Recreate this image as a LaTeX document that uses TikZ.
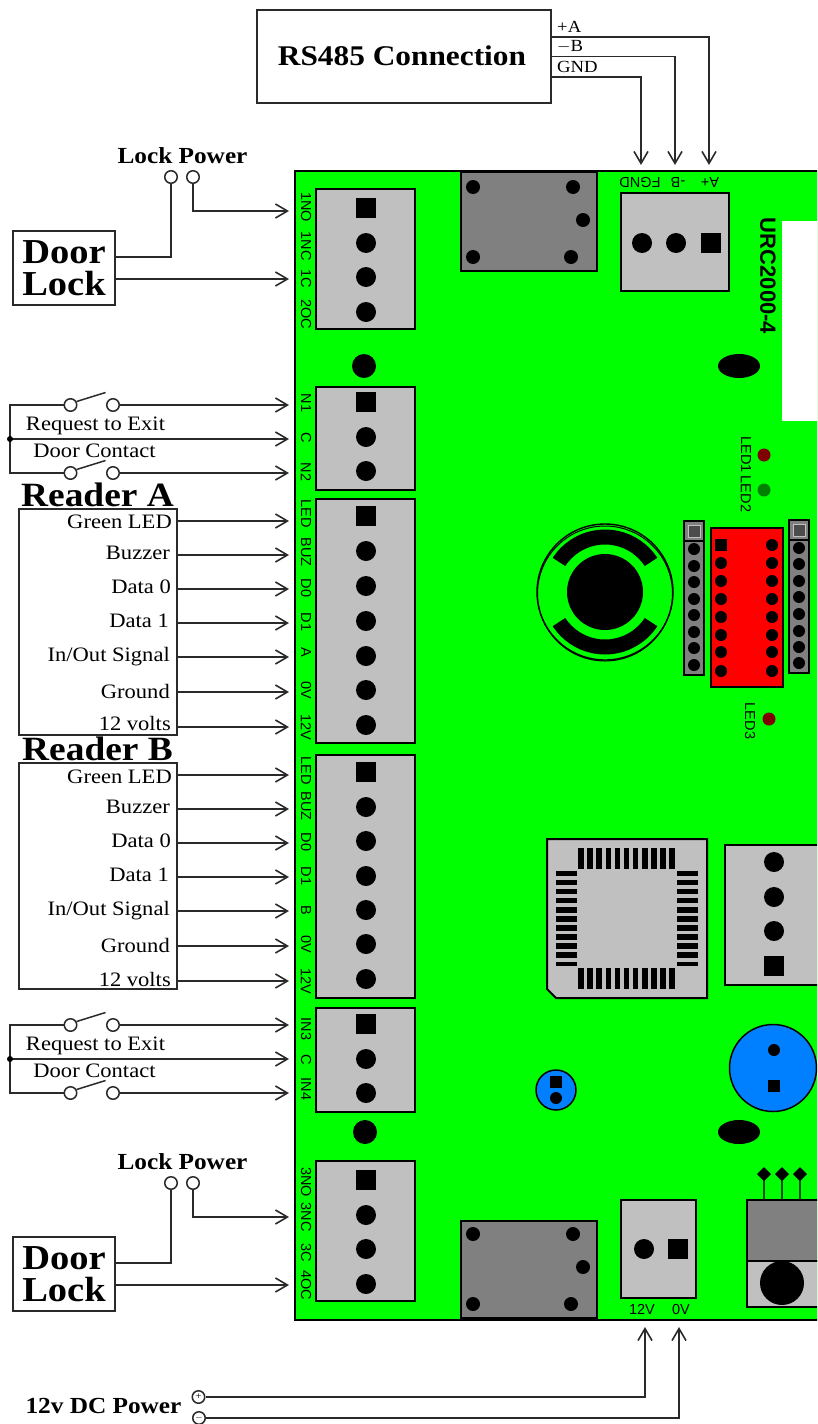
\documentclass[tikz,border=0pt]{standalone}
\usepackage{fontspec}
\setmainfont[FakeStretch=1.1]{Liberation Serif}
\setsansfont{Liberation Sans}
\usetikzlibrary{arrows.meta}
\definecolor{boardgreen}{HTML}{00FF00}
\definecolor{partgrey}{HTML}{C0C0C0}
\definecolor{relaygrey}{HTML}{808080}
\definecolor{capblue}{HTML}{0080FF}
\definecolor{ledred}{HTML}{800000}
\definecolor{ledgreen}{HTML}{008000}
\definecolor{wirecol}{HTML}{2A2A2A}
\tikzset{
  wire/.style={draw=wirecol, line width=1.5pt},
  feed/.style={wire, -{Straight Barb[length=12pt,width=14pt,line width=1.6pt]}},
  box/.style={draw=wirecol, line width=1.5pt, inner sep=0pt},
  term/.style={draw=wirecol, line width=1.5pt, fill=white, circle, minimum size=12.5pt, inner sep=0pt},
  block/.style={draw=black, line width=2pt, fill=partgrey},
  relay/.style={draw=black, line width=2pt, fill=relaygrey},
  bighead/.style={font=\bfseries\fontsize{35}{35}\selectfont, inner sep=0pt},
  readhead/.style={font=\bfseries\fontsize{34}{34}\selectfont, inner sep=0pt},
  head/.style={font=\bfseries\fontsize{23}{23}\selectfont, inner sep=0pt},
  sig/.style={font=\fontsize{20.5}{20.5}\selectfont, inner sep=0pt},
  small/.style={font=\fontsize{17}{17}\selectfont, inner sep=0pt},
  pinlabel/.style={font=\sffamily\fontsize{14.5}{14.5}\selectfont, inner sep=0pt},
  pindown/.style={pinlabel, rotate=-90},
  pinflip/.style={pinlabel, rotate=180}
}
\begin{document}
\begin{tikzpicture}[x=1pt, y=-1pt]
\useasboundingbox (0,0) rectangle (817,1424);
\clip (0,0) rectangle (817,1424);

\path [fill=boardgreen] (825,171) -- (295,171) -- (295,1320) -- (825,1320);
\draw [black, line width=2pt] (825,171) -- (295,171) -- (295,1320) -- (825,1320);
\path [fill=white] (782,221) rectangle (825,421);

\node [rotate=-90, font=\sffamily\bfseries\fontsize{22}{22}\selectfont, inner sep=0pt] (urc) at (768,276) {URC2000-4};

\draw [block] (316,189) rectangle (415,329);
\fill (356,198) rectangle (376,218);
\fill (366,243) circle (10);
\fill (366,277) circle (10);
\fill (366,312) circle (10);
\node [pindown] (l1no) at (306,207) {1NO};
\node [pindown] (l1nc) at (306,246) {1NC};
\node [pindown] (l1c) at (306,279) {1C};
\node [pindown] (l2oc) at (306,314) {2OC};

\fill (364,366) circle (12);

\draw [block] (316,387) rectangle (415,490);
\fill (356,392) rectangle (376,412);
\fill (366,437) circle (10);
\fill (366,471) circle (10);
\node [pindown] (ln1) at (306,403) {N1};
\node [pindown] (lca) at (306,438) {C};
\node [pindown] (ln2) at (306,472) {N2};

\draw [block] (316,499) rectangle (415,743);
\fill (356,506) rectangle (376,526);
\fill (366,551) circle (10);
\fill (366,586) circle (10);
\fill (366,621) circle (10);
\fill (366,656) circle (10);
\fill (366,690) circle (10);
\fill (366,725) circle (10);
\node [pindown] (lalib) at (306,514) {LED};
\node [pindown] (labuz) at (306,552) {BUZ};
\node [pindown] (lad0) at (306,588) {D0};
\node [pindown] (lad1) at (306,622) {D1};
\node [pindown] (laa) at (306,652) {A};
\node [pindown] (la0v) at (306,690) {0V};
\node [pindown] (la12) at (306,727) {12V};

\draw [block] (316,755) rectangle (415,998);
\fill (356,762) rectangle (376,782);
\fill (366,807) circle (10);
\fill (366,841) circle (10);
\fill (366,876) circle (10);
\fill (366,910) circle (10);
\fill (366,944) circle (10);
\fill (366,979) circle (10);
\node [pindown] (lblib) at (306,771) {LED};
\node [pindown] (lbbuz) at (306,806) {BUZ};
\node [pindown] (lbd0) at (306,842) {D0};
\node [pindown] (lbd1) at (306,876) {D1};
\node [pindown] (lbb) at (306,910) {B};
\node [pindown] (lb0v) at (306,944) {0V};
\node [pindown] (lb12) at (306,981) {12V};

\draw [block] (316,1008) rectangle (415,1112);
\fill (356,1014) rectangle (376,1034);
\fill (366,1059) circle (10);
\fill (366,1093) circle (10);
\node [pindown] (ln3) at (306,1029) {IN3};
\node [pindown] (lcb) at (306,1060) {C};
\node [pindown] (ln4) at (306,1089) {IN4};

\fill (365,1132) circle (12);

\draw [block] (316,1161) rectangle (415,1301);
\fill (356,1170) rectangle (376,1190);
\fill (366,1215) circle (10);
\fill (366,1249) circle (10);
\fill (366,1284) circle (10);
\node [pindown] (l3no) at (306,1182) {3NO};
\node [pindown] (l3nc) at (306,1217) {3NC};
\node [pindown] (l3c) at (306,1253) {3C};
\node [pindown] (l4oc) at (306,1285) {4OC};

\draw [relay] (461,172) rectangle (597,271);
\fill (473,187) circle (7);
\fill (573,187) circle (7);
\fill (583,220) circle (7);
\fill (473,257) circle (7);
\fill (571,257) circle (7);

\draw [block] (621,193) rectangle (729,291);
\fill (642,243) circle (10);
\fill (676,243) circle (10);
\fill (701,233) rectangle (721,253);
\node [pinflip] (lgnd) at (640,182) {FGND};
\node [pinflip] (lb) at (678,182) {-B};
\node [pinflip] (la) at (710,182) {A+};

\fill (739,366) ellipse (21 and 12);
\fill (739,1132) ellipse (21 and 12);

\fill [ledred] (764,455) circle (6.5);
\fill [ledgreen] (764,490) circle (6.5);
\fill [ledred] (769,719) circle (6.5);
\node [pindown] (led1) at (746,454.5) {LED1};
\node [pindown] (led2) at (746,494) {LED2};
\node [pindown] (led3) at (750,721) {LED3};

\draw [black, line width=1.4pt] (605,592) circle (68);
\draw [black, line width=1pt] (605,593.5) circle (67.5);
\draw [black, line width=15pt] (605,592) circle (55);
\path [fill=boardgreen] (605,592) -- (549.6,556) -- (539,592) -- (549.6,628) -- cycle;
\path [fill=boardgreen] (605,592) -- (660.4,556) -- (671,592) -- (660.4,628) -- cycle;
\fill (605,592) circle (38);

\draw [relay] (684,521) rectangle (704,675);
\draw [relay, line width=1pt, draw=partgrey, fill=black!70] (688,525) rectangle (700,537);
\draw [black, line width=1.5pt] (684,541) -- (704,541);
\fill (694,549) circle (6);
\fill (694,566) circle (6);
\fill (694,582) circle (6);
\fill (694,599) circle (6);
\fill (694,615) circle (6);
\fill (694,632) circle (6);
\fill (694,648) circle (6);
\fill (694,665) circle (6);

\draw [relay] (789,520) rectangle (809,673);
\draw [relay, line width=1pt, draw=partgrey, fill=black!70] (793,524) rectangle (805,536);
\draw [black, line width=1.5pt] (789,540) -- (809,540);
\fill (799,548) circle (6);
\fill (799,564) circle (6);
\fill (799,581) circle (6);
\fill (799,597) circle (6);
\fill (799,614) circle (6);
\fill (799,631) circle (6);
\fill (799,647) circle (6);
\fill (799,663) circle (6);

\draw [black, line width=2pt, fill=red] (711,528) rectangle (783,687);
\fill (715,539) rectangle (727,551);
\fill (721,563) circle (6);
\fill (721,581) circle (6);
\fill (721,599) circle (6);
\fill (721,617) circle (6);
\fill (721,635) circle (6);
\fill (721,652) circle (6);
\fill (721,671) circle (6);
\fill (772,545) circle (6);
\fill (772,563) circle (6);
\fill (772,581) circle (6);
\fill (772,599) circle (6);
\fill (772,617) circle (6);
\fill (772,635) circle (6);
\fill (772,652) circle (6);
\fill (772,671) circle (6);

\draw [block] (547,839) -- (707,839) -- (707,998) -- (556,998) -- (547,989) -- cycle;
\draw [line width=21pt, dash pattern=on 5.6pt off 3.5pt] (578.2,858.5) -- (675,858.5);
\draw [line width=21pt, dash pattern=on 5.6pt off 3.5pt] (578.2,978.5) -- (675,978.5);
\draw [line width=21pt, dash pattern=on 5.6pt off 3.5pt] (566.5,870.5) -- (566.5,966);
\draw [line width=21pt, dash pattern=on 5.6pt off 3.5pt] (687,870.5) -- (687,966);

\draw [block] (725,845) rectangle (825,985);
\fill (774,862) circle (10);
\fill (774,897) circle (10);
\fill (774,931) circle (10);
\fill (764,956) rectangle (784,976);

\draw [black, line width=1.5pt, fill=capblue] (773,1068) circle (43.5);
\fill (774,1050) circle (6);
\fill (768,1080) rectangle (780,1092);

\draw [black, line width=1.5pt, fill=capblue] (556,1090) circle (20);
\fill (550,1076) rectangle (562,1088);
\fill (556,1098) circle (6);

\draw [relay] (461,1221) rectangle (597,1318);
\fill (473,1234) circle (7);
\fill (573,1234) circle (7);
\fill (583,1267) circle (7);
\fill (473,1304) circle (7);
\fill (571,1304) circle (7);

\draw [block] (621,1200) rectangle (696,1298);
\fill (644,1249) circle (10);
\fill (668,1239) rectangle (688,1259);
\node [pinlabel] (l12v) at (642,1309) {12V};
\node [pinlabel] (l0v) at (681,1309) {0V};

\draw [black!70!boardgreen, line width=1.5pt] (764,1174) -- (764,1200);
\draw [black!70!boardgreen, line width=1.5pt] (782,1174) -- (782,1200);
\draw [black!70!boardgreen, line width=1.5pt] (800,1174) -- (800,1200);
\fill (764,1167) -- (771,1174) -- (764,1181) -- (757,1174) -- cycle;
\fill (782,1167) -- (789,1174) -- (782,1181) -- (775,1174) -- cycle;
\fill (800,1167) -- (807,1174) -- (800,1181) -- (793,1174) -- cycle;
\draw [block] (747,1261) rectangle (825,1307);
\draw [relay] (747,1200) rectangle (825,1261);
\fill (782,1283) circle (22);

\node [box, minimum width=294pt, minimum height=93pt] (rs485) at (404,56.5) {};
\node [font=\bfseries\fontsize{28.5}{28.5}\selectfont, inner sep=0pt] (rs485txt) at (402,56) {RS485 Connection};
\node [small, anchor=west] (tpa) at (557,27) {+A};
\node [small, anchor=west] (tmb) at (557,47) {$-$B};
\node [small, anchor=west] (tgnd) at (557,67) {GND};
\coordinate (apa) at (709,165);
\coordinate (amb) at (675,165);
\coordinate (agnd) at (641,165);
\draw [feed] ([yshift=19.5pt]rs485.east) -| (apa);
\draw [feed] (rs485.east) -| (amb);
\draw [feed] ([yshift=-20.5pt]rs485.east) -| (agnd);

\node [head] (lp1txt) at (182.5,156) {Lock Power};
\node [term] (lp1a) at (171,177) {};
\node [term] (lp1b) at (193,177) {};
\node [box, minimum width=102pt, minimum height=74pt] (lock1) at (64,268) {};
\node [bighead] (lock1a) at (64,252) {Door};
\node [bighead] (lock1b) at (64,284) {Lock};
\coordinate (a1no) at (289,211);
\coordinate (a1c) at (289,279);
\draw [wire] ([yshift=11pt]lock1.east) -| (lp1a);
\draw [feed] (lp1b) |- (a1no);
\draw [feed] ([yshift=-11pt]lock1.east) -- (a1c);

\node [term] (sw1a) at (70.5,405) {};
\node [term] (sw1b) at (113,405) {};
\node [term] (sw2a) at (70.5,473) {};
\node [term] (sw2b) at (113,473) {};
\node [sig] (rex1) at (95.5,426) {Request to Exit};
\node [sig] (dc1) at (94.5,451) {Door Contact};
\coordinate (com1) at (10,439);
\coordinate (a1n1) at (289,405);
\coordinate (a1cc) at (289,439);
\coordinate (a1n2) at (289,473);
\draw [wire] (sw1a) -- (sw1a -| com1) -- (sw2a -| com1) -- (sw2a);
\draw [wire] (sw1a.30) -- ++(29,-9);
\draw [wire] (sw2a.30) -- ++(29,-9);
\draw [feed] (sw1b) -- (a1n1);
\draw [feed] (sw2b) -- (a1n2);
\draw [feed] (com1) -- (a1cc);
\fill (com1) circle (3);

\node [readhead] (ratxt) at (97.5,494.5) {Reader A};
\node [box, minimum width=158pt, minimum height=226pt, fill=white] (readera) at (97.75,622) {};
\node [sig, anchor=east] (ra1) at (172,522) {Green LED};
\node [sig, anchor=east] (ra2) at (170,553) {Buzzer};
\node [sig, anchor=east] (ra3) at (171,587) {Data 0};
\node [sig, anchor=east] (ra4) at (169,621) {Data 1};
\node [sig, anchor=east] (ra5) at (170,657) {In/Out Signal};
\node [sig, anchor=east] (ra6) at (170,691) {Ground};
\node [sig, anchor=east] (ra7) at (171,723.5) {12 volts};
\coordinate (aa1) at (289,521);
\coordinate (aa2) at (289,555);
\coordinate (aa3) at (289,589);
\coordinate (aa4) at (289,623);
\coordinate (aa5) at (289,657);
\coordinate (aa6) at (289,692);
\coordinate (aa7) at (289,727);
\draw [feed] (readera.east |- aa1) -- (aa1);
\draw [feed] (readera.east |- aa2) -- (aa2);
\draw [feed] (readera.east |- aa3) -- (aa3);
\draw [feed] (readera.east |- aa4) -- (aa4);
\draw [feed] (readera.east |- aa5) -- (aa5);
\draw [feed] (readera.east |- aa6) -- (aa6);
\draw [feed] (readera.east |- aa7) -- (aa7);

\node [readhead] (rbtxt) at (97.5,749) {Reader B};
\node [box, minimum width=158pt, minimum height=226pt, fill=white] (readerb) at (97.75,876) {};
\node [sig, anchor=east] (rb1) at (172,776.5) {Green LED};
\node [sig, anchor=east] (rb2) at (170,807) {Buzzer};
\node [sig, anchor=east] (rb3) at (171,841) {Data 0};
\node [sig, anchor=east] (rb4) at (169,875) {Data 1};
\node [sig, anchor=east] (rb5) at (170,911) {In/Out Signal};
\node [sig, anchor=east] (rb6) at (170,945) {Ground};
\node [sig, anchor=east] (rb7) at (171,979) {12 volts};
\coordinate (ab1) at (289,775);
\coordinate (ab2) at (289,809);
\coordinate (ab3) at (289,843);
\coordinate (ab4) at (289,877);
\coordinate (ab5) at (289,911);
\coordinate (ab6) at (289,946);
\coordinate (ab7) at (289,981);
\draw [feed] (readerb.east |- ab1) -- (ab1);
\draw [feed] (readerb.east |- ab2) -- (ab2);
\draw [feed] (readerb.east |- ab3) -- (ab3);
\draw [feed] (readerb.east |- ab4) -- (ab4);
\draw [feed] (readerb.east |- ab5) -- (ab5);
\draw [feed] (readerb.east |- ab6) -- (ab6);
\draw [feed] (readerb.east |- ab7) -- (ab7);

\node [term] (sw3a) at (70.5,1025) {};
\node [term] (sw3b) at (113,1025) {};
\node [term] (sw4a) at (70.5,1093) {};
\node [term] (sw4b) at (113,1093) {};
\node [sig] (rex2) at (95.5,1046) {Request to Exit};
\node [sig] (dc2) at (94.5,1071) {Door Contact};
\coordinate (com2) at (10,1059);
\coordinate (a2n3) at (289,1025);
\coordinate (a2cc) at (289,1059);
\coordinate (a2n4) at (289,1093);
\draw [wire] (sw3a) -- (sw3a -| com2) -- (sw4a -| com2) -- (sw4a);
\draw [wire] (sw3a.30) -- ++(29,-9);
\draw [wire] (sw4a.30) -- ++(29,-9);
\draw [feed] (sw3b) -- (a2n3);
\draw [feed] (sw4b) -- (a2n4);
\draw [feed] (com2) -- (a2cc);
\fill (com2) circle (3);

\node [head] (lp2txt) at (182.5,1162) {Lock Power};
\node [term] (lp2a) at (171,1183) {};
\node [term] (lp2b) at (193,1183) {};
\node [box, minimum width=102pt, minimum height=74pt] (lock2) at (64,1274) {};
\node [bighead] (lock2a) at (64,1258) {Door};
\node [bighead] (lock2b) at (64,1290) {Lock};
\coordinate (a3no) at (289,1217);
\coordinate (a3c) at (289,1285);
\draw [wire] ([yshift=11pt]lock2.east) -| (lp2a);
\draw [feed] (lp2b) |- (a3no);
\draw [feed] ([yshift=-11pt]lock2.east) -- (a3c);

\node [head] (dctxt) at (103.5,1406) {12v DC Power};
\node [term, font=\fontsize{10}{10}\selectfont] (dcp) at (198.5,1397) {+};
\node [term, font=\fontsize{10}{10}\selectfont] (dcm) at (199,1418) {$-$};
\coordinate (a12v) at (645,1327);
\coordinate (a0v) at (679,1327);
\draw [feed] (dcp) -| (a12v);
\draw [feed] (dcm) -| (a0v);
\end{tikzpicture}
\end{document}
